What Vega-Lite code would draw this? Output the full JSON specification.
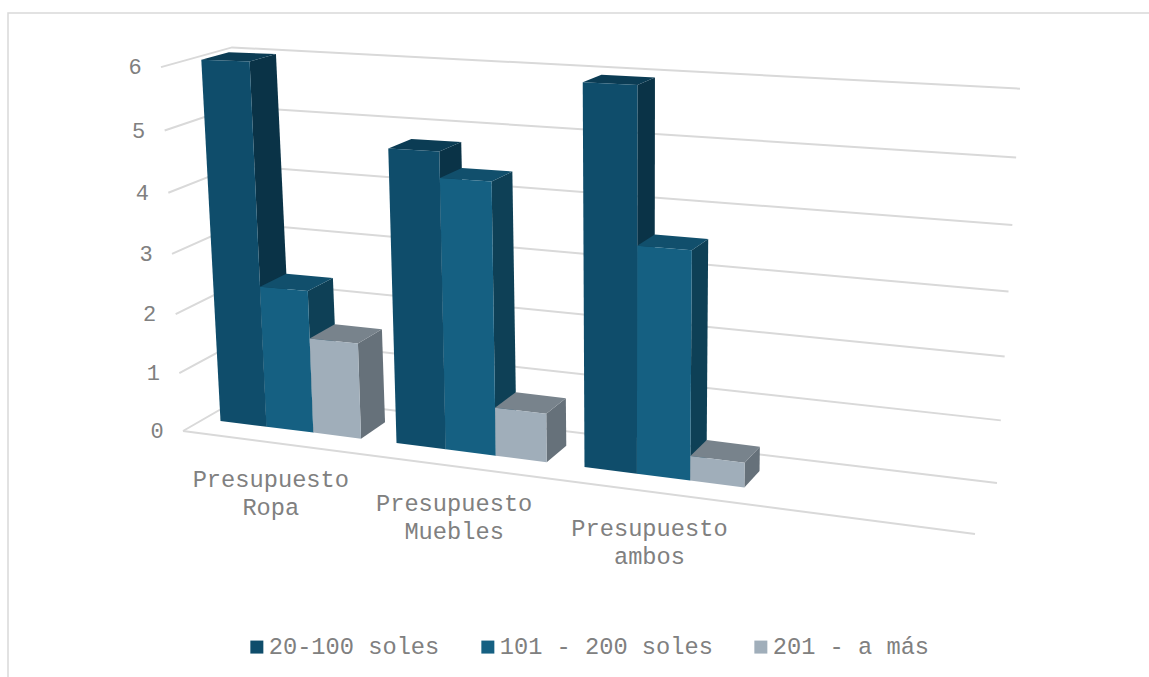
{
  "$schema": "https://vega.github.io/schema/vega-lite/v6.json",
  "width": 1149,
  "height": 677,
  "padding": 0,
  "autosize": {"type": "fit", "contains": "padding"},
  "background": "#ffffff",
  "config": {"view": {"stroke": null}},
  "datasets": {
    "gastos": [
      {"categoria": "Presupuesto Ropa", "rango": "20-100 soles", "valor": 6},
      {"categoria": "Presupuesto Ropa", "rango": "101 - 200 soles", "valor": 2.3},
      {"categoria": "Presupuesto Ropa", "rango": "201 - a más", "valor": 1.53},
      {"categoria": "Presupuesto Muebles", "rango": "20-100 soles", "valor": 4.7},
      {"categoria": "Presupuesto Muebles", "rango": "101 - 200 soles", "valor": 4.28},
      {"categoria": "Presupuesto Muebles", "rango": "201 - a más", "valor": 0.75},
      {"categoria": "Presupuesto ambos", "rango": "20-100 soles", "valor": 5.9},
      {"categoria": "Presupuesto ambos", "rango": "101 - 200 soles", "valor": 3.46},
      {"categoria": "Presupuesto ambos", "rango": "201 - a más", "valor": 0.37}
    ],
    "marcas": [
      {"valor": 0}, {"valor": 1}, {"valor": 2}, {"valor": 3}, {"valor": 4}, {"valor": 5}, {"valor": 6}
    ]
  },
  "data": {"name": "gastos"},
  "transform": [
    {"calculate": "indexof(['Presupuesto Ropa','Presupuesto Muebles','Presupuesto ambos'],datum.categoria)", "as": "i"},
    {"calculate": "indexof(['20-100 soles','101 - 200 soles','201 - a más'],datum.rango)", "as": "j"},
    {"calculate": "datum.i+datum.j*0.268", "as": "p0"},
    {"calculate": "datum.p0+0.268", "as": "p1"},
    {"calculate": "datum.categoria+datum.rango", "as": "barra"},
    {"calculate": "[{cara:'lado',n:0,p:datum.p1,h:0,d:0},{cara:'lado',n:1,p:datum.p1,h:0,d:1},{cara:'lado',n:2,p:datum.p1,h:datum.valor,d:1},{cara:'lado',n:3,p:datum.p1,h:datum.valor,d:0},{cara:'tapa',n:0,p:datum.p0,h:datum.valor,d:0},{cara:'tapa',n:1,p:datum.p1,h:datum.valor,d:0},{cara:'tapa',n:2,p:datum.p1,h:datum.valor,d:1},{cara:'tapa',n:3,p:datum.p0,h:datum.valor,d:1},{cara:'frente',n:0,p:datum.p0,h:0,d:0},{cara:'frente',n:1,p:datum.p1,h:0,d:0},{cara:'frente',n:2,p:datum.p1,h:datum.valor,d:0},{cara:'frente',n:3,p:datum.p0,h:datum.valor,d:0}]", "as": "vertices"},
    {"flatten": ["vertices"]},
    {"calculate": "datum.vertices.cara", "as": "cara"},
    {"calculate": "datum.vertices.n", "as": "n"},
    {"calculate": "220.5+170*datum.vertices.p+6*datum.vertices.p*datum.vertices.p+datum.vertices.h*(-3.2+1.45*datum.vertices.p)+datum.vertices.d*(27.5-4.4*datum.vertices.p)", "as": "sx"},
    {"calculate": "421+21.2*datum.vertices.p+0.9*datum.vertices.p*datum.vertices.p-datum.vertices.h*(60.2+2.5*datum.vertices.p)-datum.vertices.d*(16.5-1.5*datum.vertices.h)", "as": "sy"}
  ],
  "encoding": {
    "x": {"field": "sx", "type": "quantitative", "axis": null, "scale": {"domain": [0, 1149], "nice": false, "zero": false}},
    "y": {"field": "sy", "type": "quantitative", "axis": null, "scale": {"domain": [677, 0], "nice": false, "zero": false}}
  },
  "layer": [
    {
      "data": {"name": "marcas"},
      "transform": [
        {"filter": "datum.valor==0"},
        {"calculate": "[8,8,1149]", "as": "xs"},
        {"calculate": "[677,13,13]", "as": "ys"},
        {"calculate": "[0,1,2]", "as": "n"},
        {"flatten": ["xs", "ys", "n"]},
        {"calculate": "datum.xs", "as": "sx"},
        {"calculate": "datum.ys", "as": "sy"}
      ],
      "mark": {"type": "line", "stroke": "#d9d9d9", "strokeWidth": 1.5, "clip": true},
      "encoding": {"order": {"field": "n"}}
    },
    {
      "data": {"name": "marcas"},
      "transform": [
        {"calculate": "[183-3.67*datum.valor,249-2.83*datum.valor,997+3.83*datum.valor]", "as": "xs"},
        {"calculate": "[431-57.4*datum.valor-0.54*datum.valor*datum.valor,393-55.5*datum.valor-0.35*datum.valor*datum.valor,483-62*datum.valor-0.62*datum.valor*datum.valor]", "as": "ys"},
        {"calculate": "[0,1,2]", "as": "n"},
        {"flatten": ["xs", "ys", "n"]},
        {"calculate": "datum.xs", "as": "sx"},
        {"calculate": "datum.ys", "as": "sy"}
      ],
      "mark": {"type": "line", "stroke": "#d9d9d9", "strokeWidth": 2},
      "encoding": {
        "detail": {"field": "valor"},
        "order": {"field": "n"}
      }
    },
    {
      "data": {"name": "marcas"},
      "transform": [
        {"filter": "datum.valor==0"},
        {"calculate": "[183,975]", "as": "xs"},
        {"calculate": "[431,534]", "as": "ys"},
        {"flatten": ["xs", "ys"]},
        {"calculate": "datum.xs", "as": "sx"},
        {"calculate": "datum.ys", "as": "sy"}
      ],
      "mark": {"type": "line", "stroke": "#d9d9d9", "strokeWidth": 2},
      "encoding": {"order": {"field": "sx"}}
    },
    {
      "transform": [{"filter": "datum.cara=='lado'"}],
      "mark": {"type": "line", "filled": true, "strokeWidth": 0},
      "encoding": {
        "detail": {"field": "barra"},
        "order": {"field": "n"},
        "fill": {"field": "rango", "type": "nominal", "legend": null, "scale": {"domain": ["20-100 soles", "101 - 200 soles", "201 - a más"], "range": ["#0a3347", "#0e4056", "#66717a"]}}
      }
    },
    {
      "transform": [{"filter": "datum.cara=='tapa'"}],
      "mark": {"type": "line", "filled": true, "strokeWidth": 0},
      "encoding": {
        "detail": {"field": "barra"},
        "order": {"field": "n"},
        "fill": {"field": "rango", "type": "nominal", "legend": null, "scale": {"domain": ["20-100 soles", "101 - 200 soles", "201 - a más"], "range": ["#0b3c54", "#114f6c", "#78838c"]}}
      }
    },
    {
      "transform": [{"filter": "datum.cara=='frente'"}],
      "mark": {"type": "line", "filled": true, "strokeWidth": 0},
      "encoding": {
        "detail": {"field": "barra"},
        "order": {"field": "n"},
        "fill": {
          "field": "rango",
          "type": "nominal",
          "scale": {"domain": ["20-100 soles", "101 - 200 soles", "201 - a más"], "range": ["#0f4d6b", "#156082", "#a0aeba"]},
          "legend": {
            "title": null,
            "orient": "none",
            "legendX": 245,
            "legendY": 635,
            "direction": "horizontal",
            "columns": 3,
            "symbolType": "square",
            "symbolSize": 169,
            "symbolStrokeWidth": 0,
            "labelFont": "Liberation Mono",
            "labelFontSize": 23.7,
            "labelColor": "#808080",
            "labelOffset": 0,
            "labelLimit": 400,
            "columnPadding": 36
          }
        }
      }
    },
    {
      "data": {"name": "marcas"},
      "transform": [
        {"calculate": "183-3.67*datum.valor-26", "as": "sx"},
        {"calculate": "431-57.4*datum.valor-0.54*datum.valor*datum.valor", "as": "sy"}
      ],
      "mark": {"type": "text", "font": "Liberation Mono", "fontSize": 22, "fill": "#808080", "align": "center", "baseline": "middle"},
      "encoding": {"text": {"field": "valor", "type": "quantitative"}}
    },
    {
      "data": {"name": "gastos"},
      "transform": [
        {"filter": "datum.rango=='20-100 soles'"},
        {"calculate": "indexof(['Presupuesto Ropa','Presupuesto Muebles','Presupuesto ambos'],datum.categoria)+0.402", "as": "pc"},
        {"calculate": "200.5+172.5*datum.pc+6*datum.pc*datum.pc", "as": "sy0"},
        {"calculate": "datum.sy0", "as": "sx"},
        {"calculate": "477.8+22.2*datum.pc+0.9*datum.pc*datum.pc", "as": "sy"}
      ],
      "mark": {"type": "text", "font": "Liberation Mono", "fontSize": 23.7, "fill": "#808080", "align": "center", "baseline": "alphabetic", "lineBreak": " ", "lineHeight": 28},
      "encoding": {"text": {"field": "categoria", "type": "nominal"}}
    }
  ],
  "resolve": {"scale": {"fill": "independent"}}
}
